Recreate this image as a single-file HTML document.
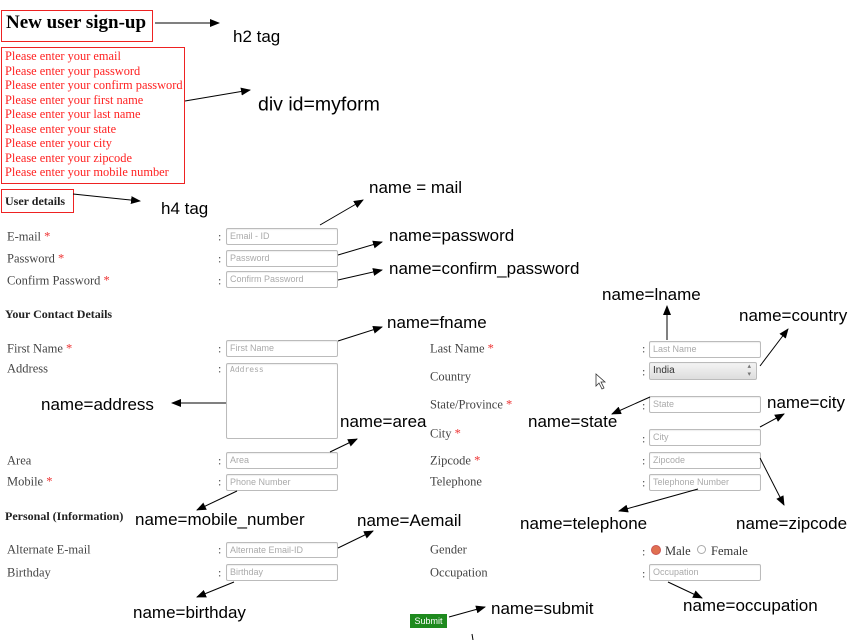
<!DOCTYPE html>
<html><head><meta charset="utf-8"><style>
body{margin:0;width:855px;height:640px;background:#fff;position:relative;overflow:hidden;font-family:"Liberation Serif",serif}
.a{position:absolute;white-space:nowrap}
.l{font-size:12.5px;color:#444;transform:translateY(-45%)}
.l b{color:#e33;font-weight:normal}
.c{font-size:12px;color:#444;transform:translateY(-45%)}
.i{position:absolute;border:1px solid #bbb;border-radius:2px;background:#fff;font-family:"Liberation Sans",sans-serif;font-size:9px;color:#aaa;padding-left:3px;box-sizing:border-box;box-shadow:inset 0 1px 1px #eee}
.n{font-family:"Liberation Sans",sans-serif;font-size:17px;color:#000;transform:translateY(-50%)}
.r{font-size:12.4px;color:#f22;line-height:14.5px}
</style></head><body>
<div class="a" style="left:1px;top:10px;width:150px;height:30px;border:1px solid #e22"></div>
<div class="a" style="left:6px;top:12px;font-size:19px;font-weight:bold">New user sign-up</div>
<div class="a" style="left:1px;top:47px;width:182px;height:135px;border:1px solid #e22"></div>
<div class="a r" style="left:5px;top:49px">Please enter your email<br>Please enter your password<br>Please enter your confirm password<br>Please enter your first name<br>Please enter your last name<br>Please enter your state<br>Please enter your city<br>Please enter your zipcode<br>Please enter your mobile number</div>
<div class="a" style="left:1px;top:189px;width:71px;height:22px;border:1px solid #e22"></div>
<div class="a" style="left:5px;top:194px;font-size:12px;font-weight:bold;color:#222">User details</div>
<div class="a" style="left:5px;top:307px;font-size:12px;font-weight:bold;color:#222">Your Contact Details</div>
<div class="a" style="left:5px;top:509px;font-size:12px;font-weight:bold;color:#222">Personal (Information)</div>

<div class="a l" style="left:7px;top:236px">E-mail <b>*</b></div>
<div class="a l" style="left:7px;top:258px">Password <b>*</b></div>
<div class="a l" style="left:7px;top:280px">Confirm Password <b>*</b></div>
<div class="a l" style="left:7px;top:348px">First Name <b>*</b></div>
<div class="a l" style="left:7px;top:368px">Address</div>
<div class="a l" style="left:7px;top:460px">Area</div>
<div class="a l" style="left:7px;top:481px">Mobile <b>*</b></div>
<div class="a l" style="left:7px;top:549px">Alternate E-mail</div>
<div class="a l" style="left:7px;top:572px">Birthday</div>

<div class="a c" style="left:218px;top:236px">:</div>
<div class="a c" style="left:218px;top:258px">:</div>
<div class="a c" style="left:218px;top:280px">:</div>
<div class="a c" style="left:218px;top:348px">:</div>
<div class="a c" style="left:218px;top:368px">:</div>
<div class="a c" style="left:218px;top:460px">:</div>
<div class="a c" style="left:218px;top:481px">:</div>
<div class="a c" style="left:218px;top:549px">:</div>
<div class="a c" style="left:218px;top:572px">:</div>

<div class="i" style="left:226px;top:228px;width:112px;height:17px;line-height:15px">Email - ID</div>
<div class="i" style="left:226px;top:250px;width:112px;height:17px;line-height:15px">Password</div>
<div class="i" style="left:226px;top:271px;width:112px;height:17px;line-height:15px">Confirm Password</div>
<div class="i" style="left:226px;top:340px;width:112px;height:17px;line-height:15px">First Name</div>
<div class="i" style="left:226px;top:363px;width:112px;height:76px;line-height:12px;font-family:'DejaVu Sans Mono',monospace;font-size:8px">Address</div>
<div class="i" style="left:226px;top:452px;width:112px;height:17px;line-height:15px">Area</div>
<div class="i" style="left:226px;top:474px;width:112px;height:17px;line-height:15px">Phone Number</div>
<div class="i" style="left:226px;top:542px;width:112px;height:16px;line-height:14px">Alternate Email-ID</div>
<div class="i" style="left:226px;top:564px;width:112px;height:17px;line-height:15px">Birthday</div>

<div class="a l" style="left:430px;top:348px">Last Name <b>*</b></div>
<div class="a l" style="left:430px;top:376px">Country</div>
<div class="a l" style="left:430px;top:404px">State/Province <b>*</b></div>
<div class="a l" style="left:430px;top:433px">City <b>*</b></div>
<div class="a l" style="left:430px;top:460px">Zipcode <b>*</b></div>
<div class="a l" style="left:430px;top:481px">Telephone</div>
<div class="a l" style="left:430px;top:549px">Gender</div>
<div class="a l" style="left:430px;top:572px">Occupation</div>

<div class="a c" style="left:642px;top:348px">:</div>
<div class="a c" style="left:642px;top:371px">:</div>
<div class="a c" style="left:642px;top:405px">:</div>
<div class="a c" style="left:642px;top:438px">:</div>
<div class="a c" style="left:642px;top:460px">:</div>
<div class="a c" style="left:642px;top:482px">:</div>
<div class="a c" style="left:642px;top:551px">:</div>
<div class="a c" style="left:642px;top:573px">:</div>

<div class="i" style="left:649px;top:341px;width:112px;height:17px;line-height:15px">Last Name</div>
<div class="i" style="left:649px;top:362px;width:108px;height:18px;line-height:16px;background:linear-gradient(#f4f4f4,#ddd);color:#333;font-size:10px">India<span style="position:absolute;right:5px;top:0;font-size:7px;line-height:8px;color:#777">▴<br>▾</span></div>
<div class="i" style="left:649px;top:396px;width:112px;height:17px;line-height:15px">State</div>
<div class="i" style="left:649px;top:429px;width:112px;height:17px;line-height:15px">City</div>
<div class="i" style="left:649px;top:452px;width:112px;height:17px;line-height:15px">Zipcode</div>
<div class="i" style="left:649px;top:474px;width:112px;height:17px;line-height:15px">Telephone Number</div>
<div class="i" style="left:649px;top:564px;width:112px;height:17px;line-height:15px">Occupation</div>
<div class="a" style="left:651px;top:545px;width:8px;height:8px;border-radius:50%;background:#e07050;border:1px solid #c55"></div>
<div class="a" style="left:665px;top:544px;font-size:12.5px;color:#333">Male</div>
<div class="a" style="left:697px;top:545px;width:7px;height:7px;border-radius:50%;border:1px solid #aaa"></div>
<div class="a" style="left:711px;top:544px;font-size:12.5px;color:#333">Female</div>
<div class="a" style="left:410px;top:614px;width:37px;height:14px;background:#1e8a1e;color:#fff;font-family:'Liberation Sans',sans-serif;font-size:9px;line-height:14px;text-align:center">Submit</div>

<div class="a n" style="left:233px;top:37px">h2 tag</div>
<div class="a n" style="left:258px;top:105px;font-size:19.5px">div id=myform</div>
<div class="a n" style="left:161px;top:209px">h4 tag</div>
<div class="a n" style="left:369px;top:188px">name = mail</div>
<div class="a n" style="left:389px;top:236px">name=password</div>
<div class="a n" style="left:389px;top:269px">name=confirm_password</div>
<div class="a n" style="left:387px;top:323px">name=fname</div>
<div class="a n" style="left:41px;top:405px">name=address</div>
<div class="a n" style="left:340px;top:422px">name=area</div>
<div class="a n" style="left:135px;top:520px">name=mobile_number</div>
<div class="a n" style="left:357px;top:521px">name=Aemail</div>
<div class="a n" style="left:133px;top:613px">name=birthday</div>
<div class="a n" style="left:491px;top:609px">name=submit</div>
<div class="a n" style="left:602px;top:295px">name=lname</div>
<div class="a n" style="left:739px;top:316px">name=country</div>
<div class="a n" style="left:528px;top:422px">name=state</div>
<div class="a n" style="left:767px;top:403px">name=city</div>
<div class="a n" style="left:736px;top:524px">name=zipcode</div>
<div class="a n" style="left:520px;top:524px">name=telephone</div>
<div class="a n" style="left:683px;top:606px">name=occupation</div>

<svg class="a" style="left:0;top:0" width="855" height="640">
<defs><marker id="m" markerWidth="10" markerHeight="8" refX="9" refY="4" orient="auto" markerUnits="userSpaceOnUse"><path d="M0,0 L10,4 L0,8z" fill="#000"/></marker></defs>
<g stroke="#000" stroke-width="1" fill="none">
<line x1="155" y1="23" x2="219" y2="23" marker-end="url(#m)"/>
<line x1="185" y1="101" x2="250" y2="90" marker-end="url(#m)"/>
<line x1="73" y1="194" x2="140" y2="201" marker-end="url(#m)"/>
<line x1="320" y1="225" x2="363" y2="200" marker-end="url(#m)"/>
<line x1="338" y1="255" x2="382" y2="242" marker-end="url(#m)"/>
<line x1="338" y1="280" x2="382" y2="270" marker-end="url(#m)"/>
<line x1="338" y1="341" x2="382" y2="327" marker-end="url(#m)"/>
<line x1="226" y1="403" x2="172" y2="403" marker-end="url(#m)"/>
<line x1="330" y1="452" x2="357" y2="439" marker-end="url(#m)"/>
<line x1="237" y1="491" x2="197" y2="510" marker-end="url(#m)"/>
<line x1="338" y1="548" x2="373" y2="531" marker-end="url(#m)"/>
<line x1="234" y1="582" x2="197" y2="597" marker-end="url(#m)"/>
<line x1="449" y1="617" x2="485" y2="607" marker-end="url(#m)"/>
<line x1="667" y1="340" x2="667" y2="306" marker-end="url(#m)"/>
<line x1="760" y1="366" x2="788" y2="329" marker-end="url(#m)"/>
<line x1="650" y1="397" x2="612" y2="414" marker-end="url(#m)"/>
<line x1="760" y1="427" x2="784" y2="414" marker-end="url(#m)"/>
<line x1="760" y1="458" x2="784" y2="505" marker-end="url(#m)"/>
<line x1="698" y1="489" x2="619" y2="511" marker-end="url(#m)"/>
<line x1="668" y1="582" x2="702" y2="598" marker-end="url(#m)"/>
<line x1="472" y1="634" x2="473" y2="640"/>
</g>
<path d="M596,374 L596,386 L599,383 L602,389 L604,388 L601,382 L605,382z" fill="#fff" stroke="#333" stroke-width="0.8"/>
</svg>
</body></html>
